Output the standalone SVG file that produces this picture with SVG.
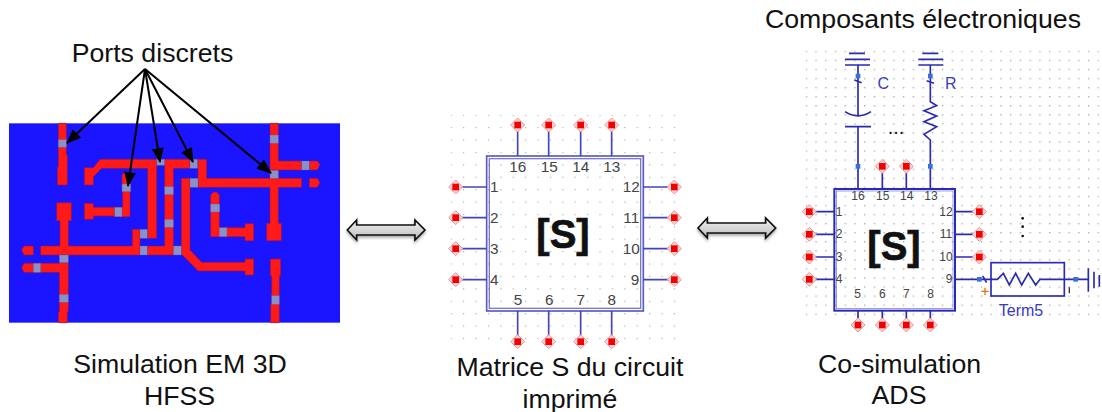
<svg xmlns="http://www.w3.org/2000/svg" width="1102" height="412" viewBox="0 0 1102 412">
<style>
text{font-family:"Liberation Sans",Arial,sans-serif}
.t{font-size:26.7px;fill:#111;text-anchor:middle}
.tr{fill:#ff1a1a;stroke:#a0104a;stroke-width:2;stroke-linejoin:round}
.pt{fill:#8c90c8;stroke:#5a5a90;stroke-width:1}
.w{stroke:#4444bb;stroke-width:5;fill:none}
.w2{stroke:#2a2ab0;stroke-width:5;fill:none}
.n1{font-size:46px;fill:#444;text-anchor:middle}
.n2{font-size:36px;fill:#444;text-anchor:middle}
.s{font-weight:bold;fill:#111;stroke:#111;stroke-width:2;font-size:120px;text-anchor:middle}
.da{fill:url(#g);stroke:#111;stroke-width:5;stroke-linejoin:miter;filter:url(#sh)}
.ar{stroke:#000;stroke-width:2;fill:none;marker-end:url(#ah)}
.sq{fill:#3a6fd8}
.lb{font-size:48px;fill:#3a3ac0;text-anchor:middle}
</style>
<defs>
<marker id="ah" markerUnits="userSpaceOnUse" markerWidth="16" markerHeight="14" refX="14" refY="6" orient="auto"><path d="M0 0L15 6L0 12Z" fill="#000"/></marker>
<linearGradient id="g" x1="0" y1="0" x2="0" y2="1"><stop offset="0" stop-color="#f2f2f2"/><stop offset="1" stop-color="#bcbcbc"/></linearGradient>
<filter id="sh" x="-10%" y="-30%" width="120%" height="180%"><feDropShadow dx="0" dy="6" stdDeviation="4" flood-color="#000" flood-opacity=".35"/></filter>
<pattern id="d1" patternUnits="userSpaceOnUse" x="62" y="44" width="37.2" height="37.2"><rect width="3.500" height="3.500" fill="#aaa"/></pattern>
<pattern id="d2" patternUnits="userSpaceOnUse" x="47" y="32" width="29.2" height="27.2"><rect width="4" height="4" fill="#aaa"/></pattern>
<g id="pin"><path d="M0 -21L21 0L0 21L-21 0Z" fill="#fdd8d8" stroke="#f09090" stroke-width="3"/><rect x="-10" y="-10" width="20" height="20" fill="#f40000"/></g>
<path id="dbl" d="M0 30L28 0V15H203V0L233 30L203 60V45H28V60Z"/>
</defs>

<g id="pcb-hfss" transform="translate(0 110) scale(.33333)">
<rect x="27" y="40" width="993" height="598" fill="#1a14ff"/>
<path class="tr" d="M175 40H199V135H202V225H172V172H175Z"/>
<path class="tr" d="M253 173H280L300 148H470V385H443V175H305L280 200V225H253Z"/>
<path class="tr" d="M366 195L375 185L386 195H390V320H344V292H368V222H366Z"/>
<path class="tr" d="M253 280H280V292H344V318H280V328H253Z"/>
<path class="tr" d="M170 278H214V332H205V408H397V358H420V435H122V408H180V332H170Z"/>
<path class="tr" d="M442 408H494V148H570V175H520V435H442Z"/>
<path class="tr" d="M594 148H620V205H810V180H835V205H905V232H835V340H844V392H800V340H810V232H594Z"/>
<path class="tr" d="M810 40H835V153H905V180H810Z"/>
<path class="tr" d="M928 153H952L960 163L952 180H928Z"/>
<path class="tr" d="M928 205H952L960 218L952 232H928Z"/>
<path class="tr" d="M544 205H570V420L605 457H735V447H761V495H735V483H595L544 432Z"/>
<path class="tr" d="M632 255L640 246H650L658 255V353H735V341H761V392H735V380H632Z"/>
<path class="tr" d="M72 408H100V435H72L65 420Z"/>
<path class="tr" d="M72 460H178V458H205V605H202V638H175V605H178V487H72L65 473Z"/>
<path class="tr" d="M811 447H842V497H838V638H812V583H815V497H811Z"/>
<g class="pt">
<rect x="175" y="89" width="24" height="23"/>
<rect x="366" y="222" width="26" height="23"/>
<rect x="344" y="292" width="22" height="28"/>
<rect x="470" y="148" width="24" height="18"/>
<rect x="570" y="148" width="23" height="27"/>
<rect x="570" y="205" width="24" height="27"/>
<rect x="494" y="230" width="26" height="24"/>
<rect x="494" y="328" width="26" height="24"/>
<rect x="420" y="358" width="22" height="27"/>
<rect x="420" y="408" width="22" height="27"/>
<rect x="520" y="408" width="24" height="27"/>
<rect x="178" y="435" width="27" height="23"/>
<rect x="100" y="460" width="22" height="27"/>
<rect x="178" y="553" width="27" height="24"/>
<rect x="632" y="282" width="27" height="24"/>
<rect x="658" y="353" width="23" height="27"/>
<rect x="810" y="75" width="25" height="25"/>
<rect x="905" y="153" width="23" height="27"/>
<rect x="810" y="181" width="25" height="24"/>
<rect x="815" y="557" width="23" height="26"/>
</g>
</g>

<g id="matrice-s" transform="translate(430 100) scale(.33333)">
<rect x="62" y="44" width="680" height="680" fill="url(#d1)"/>
<rect x="170" y="168" width="470" height="465" fill="none" stroke="#5a5ac8" stroke-width="5"/>
<rect x="178" y="176" width="454" height="449" fill="none" stroke="#7a7ad0" stroke-width="4"/>
<path class="w" d="M263 75V168M356 75V168M452 75V168M545 75V168M263 632V725M356 632V725M452 632V725M545 632V725M77 261H170M77 353H170M77 446H170M77 539H170M640 261H733M640 353H733M640 446H733M640 539H733"/>
<use href="#pin" x="263" y="75"/><use href="#pin" x="356" y="75"/><use href="#pin" x="452" y="75"/><use href="#pin" x="545" y="75"/>
<use href="#pin" x="263" y="725"/><use href="#pin" x="356" y="725"/><use href="#pin" x="452" y="725"/><use href="#pin" x="545" y="725"/>
<use href="#pin" x="77" y="261"/><use href="#pin" x="77" y="353"/><use href="#pin" x="77" y="446"/><use href="#pin" x="77" y="539"/>
<use href="#pin" x="733" y="261"/><use href="#pin" x="733" y="353"/><use href="#pin" x="733" y="446"/><use href="#pin" x="733" y="539"/>
<text class="n1" x="263" y="217">16</text><text class="n1" x="358" y="217">15</text><text class="n1" x="452" y="217">14</text><text class="n1" x="545" y="217">13</text>
<text class="n1" x="193" y="277">1</text><text class="n1" x="193" y="370">2</text><text class="n1" x="193" y="462">3</text><text class="n1" x="193" y="556">4</text>
<text class="n1" x="604" y="277">12</text><text class="n1" x="604" y="370">11</text><text class="n1" x="604" y="462">10</text><text class="n1" x="615" y="556">9</text>
<text class="n1" x="264" y="616">5</text><text class="n1" x="358" y="616">6</text><text class="n1" x="452" y="616">7</text><text class="n1" x="545" y="616">8</text>
<text class="s" x="399" y="445">[S]</text>
</g>

<g id="co-simulation" transform="translate(790 40) scale(.33333)">
<rect x="47" y="32" width="880" height="815" fill="url(#d2)"/>
<rect x="133" y="447" width="362" height="365" fill="none" stroke="#2a2ab8" stroke-width="6"/>
<rect x="139" y="453" width="350" height="353" fill="none" stroke="#6a6ad0" stroke-width="2"/>
<path class="w2" d="M204 75V228M204 260V447M177 40H225M165 58H240M165 75H240M165 260H243M165 215Q204 240 243 215"/>
<path class="w2" d="M193 120L215 128M421 75V185L440 197L402 212L440 228L402 245L440 260L402 283L421 300V447M410 122L432 130M397 40H445M385 58H460M385 75H460"/>
<path class="w2" d="M277 379V447M349 379V447"/>
<rect class="sq" x="197" y="101" width="14" height="14"/><rect class="sq" x="414" y="101" width="14" height="14"/>
<rect class="sq" x="197" y="372" width="14" height="14"/><rect class="sq" x="414" y="372" width="14" height="14"/>
<use href="#pin" x="277" y="379"/><use href="#pin" x="349" y="379"/>
<text class="lb" x="280" y="147">C</text>
<text class="lb" x="482" y="147">R</text>
<text x="318" y="282" font-size="60" fill="#111" text-anchor="middle">...</text>
<path class="w2" d="M58 515H133M58 583H133M58 651H133M58 718H133M495 515H568M495 583H568M495 651H568M495 718H603M204 812V855M277 812V855M349 812V855M421 812V855"/>
<use href="#pin" x="58" y="515"/><use href="#pin" x="58" y="583"/><use href="#pin" x="58" y="651"/><use href="#pin" x="58" y="718"/>
<use href="#pin" x="568" y="515"/><use href="#pin" x="568" y="583"/><use href="#pin" x="568" y="651"/>
<use href="#pin" x="204" y="855"/><use href="#pin" x="277" y="855"/><use href="#pin" x="349" y="855"/><use href="#pin" x="421" y="855"/>
<text class="n2" x="204" y="480">16</text><text class="n2" x="278" y="480">15</text><text class="n2" x="350" y="480">14</text><text class="n2" x="423" y="480">13</text>
<text class="n2" x="147" y="527">1</text><text class="n2" x="147" y="595">2</text><text class="n2" x="147" y="663">3</text><text class="n2" x="147" y="730">4</text>
<text class="n2" x="468" y="527">12</text><text class="n2" x="468" y="595">11</text><text class="n2" x="468" y="663">10</text><text class="n2" x="477" y="730">9</text>
<text class="n2" x="203" y="773">5</text><text class="n2" x="277" y="773">6</text><text class="n2" x="349" y="773">7</text><text class="n2" x="422" y="773">8</text>
<text class="s" x="312" y="660">[S]</text>
<circle cx="698" cy="535" r="4" fill="#111"/><circle cx="698" cy="560" r="4" fill="#111"/><circle cx="698" cy="588" r="4" fill="#111"/>
<rect x="603" y="668" width="220" height="100" fill="none" stroke="#2a2ab8" stroke-width="5"/>
<path class="w2" d="M578 708L590 728M603 718H622L640 700L658 735L677 700L695 735L715 700L737 735L750 718H857M857 718H895M895 685V755M912 695V745M928 705V740"/>
<rect class="sq" x="561" y="711" width="14" height="14"/><rect class="sq" x="850" y="711" width="14" height="14"/>
<path d="M574 754H596M585 743V765" stroke="#e87020" stroke-width="4" fill="none"/>
<path d="M838 742V760" stroke="#333" stroke-width="4"/>
<text class="lb" x="693" y="827">Term5</text>
</g>

<g id="connectors">
<path class="ar" d="M145 69L67 143"/>
<path class="ar" d="M145 69L128 186"/>
<path class="ar" d="M145 69L160 162"/>
<path class="ar" d="M145 69L193 162"/>
<path class="ar" d="M145 69L271 173"/>
<use href="#dbl" class="da" transform="translate(347.300 220) scale(.3333)"/>
<use href="#dbl" class="da" transform="translate(698 218) scale(.3333)"/>
</g>

<g id="labels">
<text class="t" x="152.500" y="62">Ports discrets</text>
<text class="t" x="923" y="28">Composants électroniques</text>
<text class="t" x="180" y="373">Simulation EM 3D</text>
<text class="t" x="179.500" y="405">HFSS</text>
<text class="t" x="570" y="376">Matrice S du circuit</text>
<text class="t" x="570" y="408">imprimé</text>
<text class="t" x="899.500" y="373">Co-simulation</text>
<text class="t" x="899" y="404">ADS</text>
</g>
</svg>
